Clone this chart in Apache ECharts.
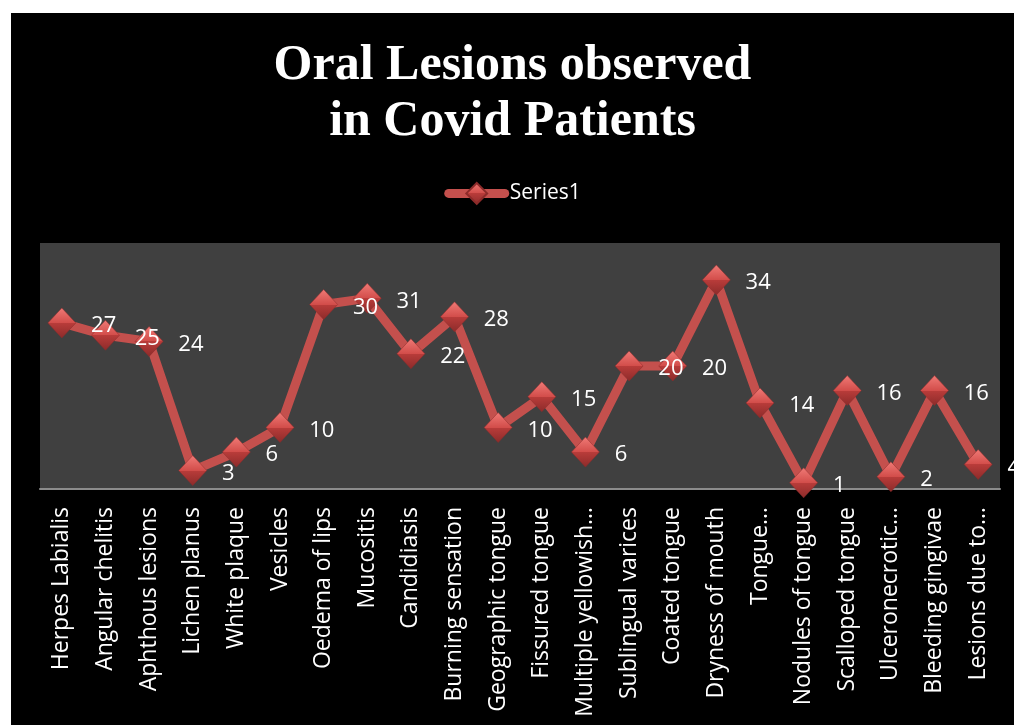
<!DOCTYPE html>
<html>
<head>
<meta charset="utf-8">
<script src="https://cdn.jsdelivr.net/npm/echarts@6/dist/echarts.min.js"></script>
<style>
  html, body { margin: 0; padding: 0; background: #ffffff; }
  #chart { position: absolute; left: 11px; top: 13px; width: 1003px; height: 712px; }
</style>
</head>
<body>
<div id="chart"></div>
<script>
const categories = [
  "Herpes Labialis", "Angular chelitis", "Aphthous lesions", "Lichen planus",
  "White plaque", "Vesicles", "Oedema of lips", "Mucositis", "Candidiasis",
  "Burning sensation", "Geographic tongue", "Fissured tongue",
  "Multiple yellowish\u2026", "Sublingual varices", "Coated tongue",
  "Dryness of mouth", "Tongue\u2026", "Nodules of tongue", "Scalloped tongue",
  "Ulceronecrotic\u2026", "Bleeding gingivae", "Lesions due to\u2026"
];
const series1 = [27, 25, 24, 3, 6, 10, 30, 31, 22, 28, 10, 15, 6, 20, 20, 34, 14, 1, 16, 2, 16, 4];

const chart = echarts.init(document.getElementById("chart"));

const diamondFill = new echarts.graphic.LinearGradient(0, 0, 0, 1, [
  { offset: 0, color: "#f07a76" },
  { offset: 0.5, color: "#d24d4a" },
  { offset: 0.5, color: "#b93c3a" },
  { offset: 1, color: "#8c2b2a" }
]);

const option = {
  backgroundColor: "#000000",
  animation: false,
  title: {
    text: "Oral Lesions observed\nin Covid Patients",
    left: "center",
    top: 20,
    padding: [5, 5, 5, 21],
    textStyle: {
      color: "#ffffff",
      fontFamily: "Liberation Serif",
      fontWeight: "bold",
      fontSize: 50,
      lineHeight: 56
    }
  },
  legend: {
    top: 164,
    left: "center",
    padding: [5, 5, 5, 21],
    itemWidth: 56,
    itemHeight: 26,
    itemGap: 4,
    lineStyle: { width: 9, cap: "round" },
    textStyle: { color: "#ffffff", fontSize: 21, fontFamily: "Open Sans" },
    data: ["Series1"]
  },
  grid: {
    left: 29,
    top: 230,
    width: 960,
    height: 246,
    show: true,
    backgroundColor: "#404040",
    borderWidth: 0
  },
  xAxis: {
    type: "category",
    data: categories,
    boundaryGap: true,
    axisLine: { lineStyle: { color: "#8c8c8c", width: 2 } },
    axisTick: { show: false },
    axisLabel: {
      interval: 0,
      rotate: 90,
      margin: 18,
      color: "#ffffff",
      fontSize: 23,
      fontFamily: "Open Sans"
    }
  },
  yAxis: {
    type: "value",
    min: 0,
    max: 40,
    show: false,
    splitLine: { show: false }
  },
  series: [
    {
      name: "Series1",
      type: "line",
      data: series1,
      symbol: "diamond",
      symbolSize: [28, 30],
      lineStyle: { color: "#c4504d", width: 9 },
      itemStyle: { color: diamondFill, borderColor: "#8c2b2a", borderWidth: 0.5 },
      label: {
        show: true,
        position: "right",
        distance: 15,
        color: "#ffffff",
        fontSize: 22,
        fontFamily: "Open Sans",
        offset: [0, 3]
      }
    }
  ]
};

chart.setOption(option);
</script>
</body>
</html>
